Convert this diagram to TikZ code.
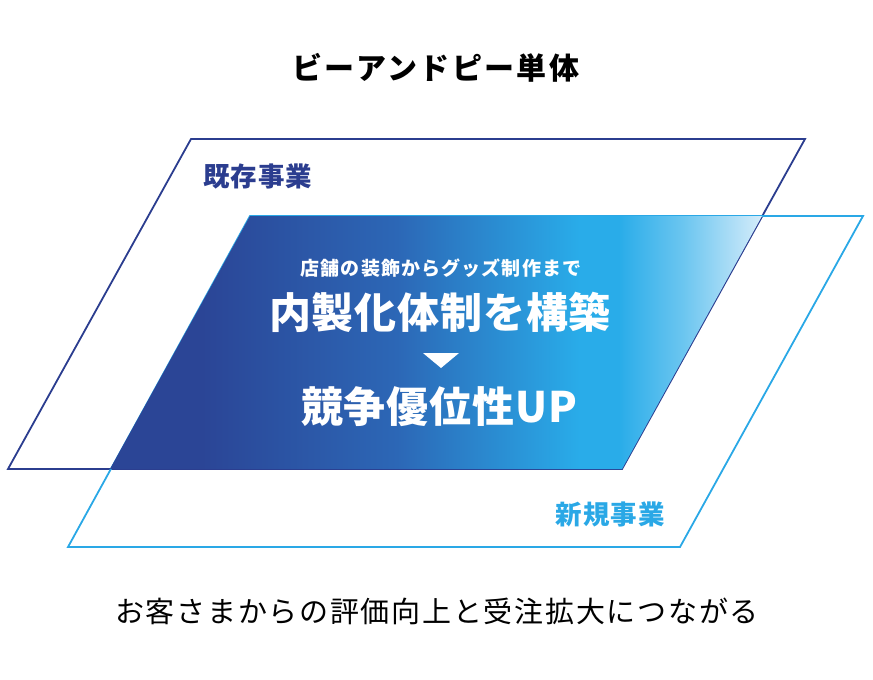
\documentclass[tikz,border=0pt]{standalone}
\usepackage{fontspec}
\setmainfont{Noto Sans CJK JP}
\newfontfamily\jp{Noto Sans CJK JP}
\definecolor{navy}{HTML}{2B3D8F}
\definecolor{sky}{HTML}{2AA8E6}
\definecolor{gA}{HTML}{2B4596}
\definecolor{gB}{HTML}{2C67B6}
\definecolor{gC}{HTML}{29ACE9}
\definecolor{gE}{HTML}{6CC6F0}
\definecolor{gD}{HTML}{D5ECFA}
\pgfdeclarehorizontalshading{bandshade}{100bp}{color(0bp)=(gA); color(25bp)=(gA); color(32bp)=(gA); color(47bp)=(gB); color(61bp)=(gC); color(64bp)=(gC); color(69bp)=(gE); color(75bp)=(gD); color(100bp)=(gD)}
\tikzset{
  outline/.style={line width=1.8pt, line join=miter},
  whitetxt/.style={text=white, inner sep=0pt},
}
\begin{document}
\begin{tikzpicture}[x=1pt,y=-1pt]
\useasboundingbox (0,0) rectangle (873,680);
% back parallelogram (existing business)
\coordinate (b1) at (191,139);
\coordinate (b2) at (805,139);
\coordinate (b3) at (622,469);
\coordinate (b4) at (8,469);
% front parallelogram (new business)
\coordinate (f1) at (250,216);
\coordinate (f2) at (863,216);
\coordinate (f3) at (680,547);
\coordinate (f4) at (68,547);
% intersection
\coordinate (g1) at (250,216);
\coordinate (g2) at (762,216);
\coordinate (g3) at (622,469);
\coordinate (g4) at (110,469);
\draw[outline, navy] (b1) -- (b2) -- (b3) -- (b4) -- cycle;
\draw[outline, sky] (f1) -- (f2) -- (f3) -- (f4) -- cycle;
\shade[shading=bandshade] (g1) -- (g2) -- (g3) -- (g4) -- cycle;
% texts
\node[font=\jp\bfseries\addfontfeature{LetterSpace=8}\fontsize{30}{30}\selectfont, inner sep=0pt] (title) at (436,68) {ビーアンドピー単体};
\node[font=\jp\bfseries\addfontfeature{LetterSpace=4}\fontsize{26.5}{26.5}\selectfont, text=navy, anchor=west, inner sep=0pt] (old) at (203,176) {既存事業};
\node[font=\jp\bfseries\addfontfeature{LetterSpace=4}\fontsize{26.5}{26.5}\selectfont, text=sky, anchor=east, inner sep=0pt] (new) at (665,514) {新規事業};
\node[whitetxt, font=\jp\bfseries\addfontfeature{LetterSpace=6}\fontsize{19}{19}\selectfont] (sub) at (441,268) {店舗の装飾からグッズ制作まで};
\node[whitetxt, font=\jp\bfseries\addfontfeature{LetterSpace=2}\fontsize{42}{42}\selectfont] (main1) at (440,312) {内製化体制を構築};
\node[whitetxt, font=\jp\bfseries\addfontfeature{LetterSpace=2}\fontsize{42}{42}\selectfont] (main2) at (439,407) {競争優位性UP};
\coordinate (t1) at (423,353);
\coordinate (t2) at (459,353);
\coordinate (t3) at (441,368);
\fill[white] (t1) -- (t2) -- (t3) -- cycle;
\node[font=\jp\addfontfeature{LetterSpace=6}\fontsize{29}{29}\selectfont, inner sep=0pt] (bottom) at (437,611) {お客さまからの評価向上と受注拡大につながる};
\end{tikzpicture}
\end{document}
